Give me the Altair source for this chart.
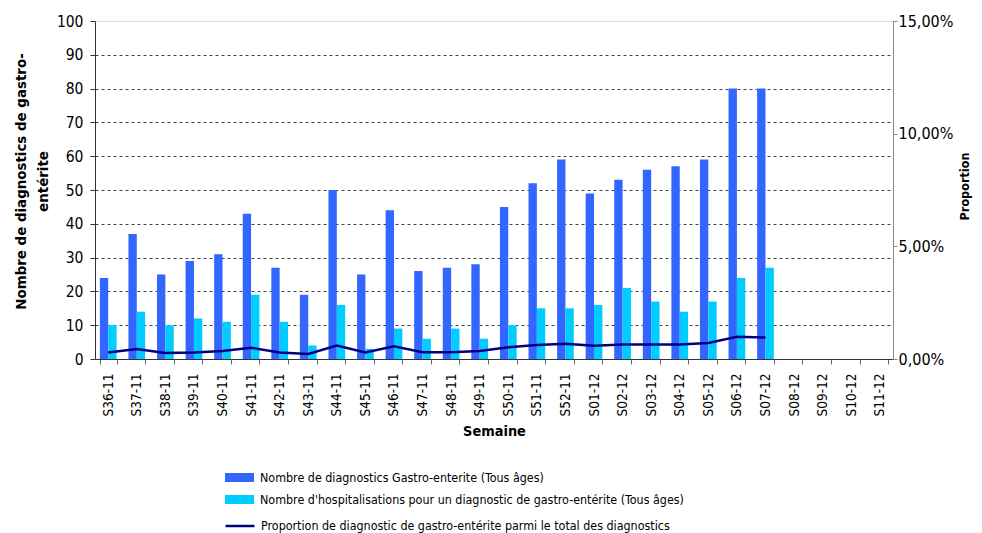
import altair as alt
import pandas as pd

weeks = ["S36-11", "S37-11", "S38-11", "S39-11", "S40-11", "S41-11", "S42-11",
         "S43-11", "S44-11", "S45-11", "S46-11", "S47-11", "S48-11", "S49-11",
         "S50-11", "S51-11", "S52-11", "S01-12", "S02-12", "S03-12", "S04-12",
         "S05-12", "S06-12", "S07-12", "S08-12", "S09-12", "S10-12", "S11-12"]
data_weeks = weeks[:24]
diagnostics = [24, 37, 25, 29, 31, 43, 27, 19, 50, 25, 44, 26, 27, 28,
               45, 52, 59, 49, 53, 56, 57, 59, 80, 80]
hospitalisations = [10, 14, 10, 12, 11, 19, 11, 4, 16, 3, 9, 6, 9, 6,
                    10, 15, 15, 16, 21, 17, 14, 17, 24, 27]
proportion_pct = [0.29, 0.44, 0.27, 0.29, 0.36, 0.50, 0.29, 0.22, 0.60, 0.29,
                  0.56, 0.30, 0.30, 0.35, 0.52, 0.62, 0.68, 0.59, 0.64, 0.64,
                  0.64, 0.71, 0.99, 0.95]

lab_diag = "Nombre de diagnostics Gastro-enterite (Tous âges)"
lab_hosp = "Nombre d'hospitalisations pour un diagnostic de gastro-entérite (Tous âges)"
lab_prop = "Proportion de diagnostic de gastro-entérite parmi le total des diagnostics"

FONT = "DejaVu Sans Condensed, DejaVu Sans"

bars_df = pd.DataFrame(
    [{"semaine": w, "serie": lab_diag, "valeur": v} for w, v in zip(data_weeks, diagnostics)]
    + [{"semaine": w, "serie": lab_hosp, "valeur": v} for w, v in zip(data_weeks, hospitalisations)]
)
line_df = pd.DataFrame({"semaine": data_weeks,
                        "prop": [p / 100 for p in proportion_pct],
                        "serie": lab_prop})

x_scale = alt.Scale(domain=weeks, paddingInner=0.415, paddingOuter=0.17)
x_axis = alt.Axis(title="Semaine", labelAngle=270, labelFontSize=13.5, labelFont=FONT,
                  titleFont=FONT, titleFontSize=14.4, titleFontWeight="bold",
                  tickBand="extent", tickSize=5, tickColor="#666", domainColor="#333",
                  labelPadding=9, titlePadding=9, labelColor="#000", titleColor="#000")

rect_sym = "M-1.45,-0.45H1.45V0.45H-1.45Z"
line_sym = "M-1.45,0H1.45"

bars = alt.Chart(bars_df).mark_bar().encode(
    x=alt.X("semaine:N", scale=x_scale, axis=x_axis, sort=weeks),
    xOffset=alt.XOffset("serie:N", scale=alt.Scale(domain=[lab_diag, lab_hosp], paddingInner=0, paddingOuter=0)),
    y=alt.Y("valeur:Q",
            scale=alt.Scale(domain=[0, 100], nice=False),
            axis=alt.Axis(title=["Nombre de diagnostics de gastro-", "entérite"],
                          values=list(range(0, 101, 10)), grid=True,
                          gridDash=[3, 3],
                          gridColor=alt.condition("datum.value >= 100 || datum.value <= 0",
                                                  alt.value("transparent"), alt.value("#444")),
                          labelFont=FONT, labelFontSize=15.5, titleFont=FONT, titleFontSize=14.9,
                          titleFontWeight="bold", titleLineHeight=22, tickSize=5, tickColor="#333",
                          domainColor="#333", labelColor="#000", titleColor="#000",
                          labelPadding=7, titlePadding=6, titleY=160)),
    color=alt.Color("serie:N",
                    scale=alt.Scale(domain=[lab_diag, lab_hosp], range=["#3366FF", "#00CCFF"]),
                    legend=alt.Legend(title=None, orient="none", legendX=133.5, legendY=445.5,
                                      symbolType=rect_sym, symbolSize=400,
                                      labelFont=FONT, labelFontSize=12.4, labelColor="#000",
                                      rowPadding=4, labelOffset=9.5, symbolOpacity=1,
                                      labelLimit=700)),
)

line = alt.Chart(line_df).mark_line(strokeWidth=2.5).encode(
    x=alt.X("semaine:N", scale=x_scale, sort=weeks),
    y=alt.Y("prop:Q",
            scale=alt.Scale(domain=[0, 0.15], nice=False),
            axis=alt.Axis(title="Proportion", orient="right", values=[0, 0.05, 0.10, 0.15],
                          labelExpr="replace(format(datum.value, '.2%'), '.', ',')",
                          grid=False, labelFont=FONT, labelFontSize=16, titleFont=FONT,
                          titleFontSize=12.5, titleFontWeight="bold", titleAngle=270,
                          tickSize=4, labelPadding=1, titleY=165,
                          tickColor="#888", domainColor="#888", labelColor="#000",
                          titleColor="#000", titlePadding=19)),
    stroke=alt.Stroke("serie:N",
                      scale=alt.Scale(domain=[lab_prop], range=["#000080"]),
                      legend=alt.Legend(title=None, orient="none", legendX=133.5, legendY=493.5,
                                        symbolType=line_sym, symbolSize=400,
                                        symbolStrokeWidth=2.5, labelOffset=9.5,
                                        labelFont=FONT, labelFontSize=12.4, labelColor="#000",
                                        labelLimit=700)),
)

chart = alt.layer(bars, line).resolve_scale(
    y="independent", color="independent", stroke="independent"
).properties(
    width=798, height=338,
    autosize=alt.AutoSizeParams(type="none"),
    padding={"left": 87, "top": 13, "right": 81, "bottom": 174},
).configure_view(stroke="#aaaaaa", strokeWidth=1).configure(background="white")

chart.save("out.html", embed_options={"renderer": "svg", "actions": False})
